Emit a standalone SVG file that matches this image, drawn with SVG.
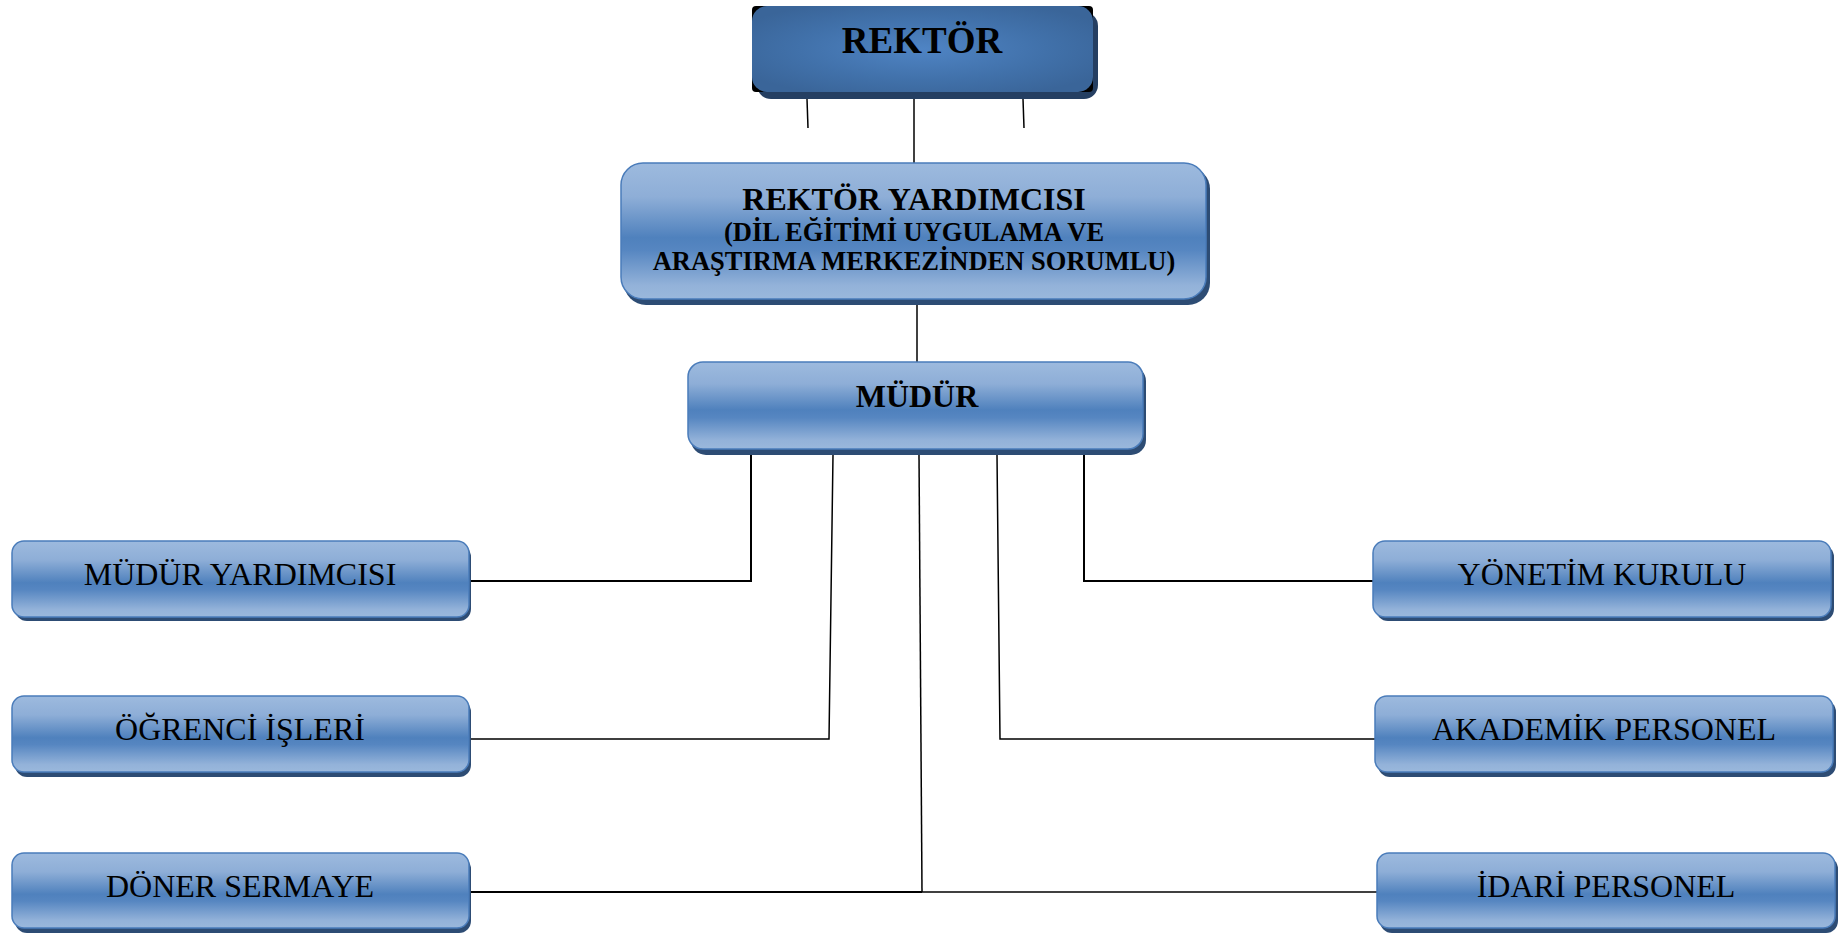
<svg xmlns="http://www.w3.org/2000/svg" width="1841" height="934" viewBox="0 0 1841 934">
<defs>
<linearGradient id="gloss" x1="0" y1="0" x2="0" y2="1">
<stop offset="0" stop-color="#9dbade"/>
<stop offset="0.25" stop-color="#8eaed7"/>
<stop offset="0.55" stop-color="#4f81bd"/>
<stop offset="0.64" stop-color="#5686c1"/>
<stop offset="0.9" stop-color="#93b2d9"/>
<stop offset="1" stop-color="#9ab8dc"/>
</linearGradient>
<radialGradient id="dark" cx="0.5" cy="0.5" r="0.6">
<stop offset="0" stop-color="#4f84c4"/>
<stop offset="0.6" stop-color="#4171aa"/>
<stop offset="1" stop-color="#3a6599"/>
</radialGradient>
<style>
.sh{fill:#2d4c74}
.bx{fill:url(#gloss);stroke:#4a7cba;stroke-width:1.5}
.t{font-family:"Liberation Serif","Times New Roman",serif;font-size:32px;fill:#000;text-anchor:middle}
.b{font-weight:bold}
.c{fill:none;stroke:#000;stroke-width:2}
.c2{fill:none;stroke:#000;stroke-width:1.5}
</style>
</defs>
<g id="connectors">
<path class="c2" d="M914 99 V163"/>
<path class="c2" d="M807 99 L808 128"/>
<path class="c2" d="M1023 99 L1024 128"/>
<path class="c2" d="M917 304 V362"/>
<path class="c" d="M751 455 V581 H470"/>
<path class="c2" d="M833 455 L829 739 H470"/>
<path class="c2" d="M919 455 L922 892"/>
<path class="c" d="M470 892 H922"/>
<path class="c2" d="M922 892 H1377"/>
<path class="c2" d="M997 455 L1000 739 H1375"/>
<path class="c" d="M1084 455 V581 H1373"/>
</g>
<g id="rektor">
<rect x="757" y="12" width="341" height="87" rx="14" fill="#253f62"/>
<rect x="752" y="6" width="341" height="86" rx="4" fill="#000"/>
<rect x="752" y="6" width="341" height="86" rx="15" fill="url(#dark)"/>
<text class="t b" x="922" y="53" style="font-size:37px">REKTÖR</text>
</g>
<g id="rektor-yardimcisi">
<rect class="sh" x="624" y="167" width="586" height="138" rx="22"/>
<rect class="bx" x="621" y="163" width="585" height="136" rx="22"/>
<text class="t b" x="914" y="210">REKTÖR YARDIMCISI</text>
<text class="t b" x="914" y="241" style="font-size:26.5px">(DİL EĞİTİMİ UYGULAMA VE</text>
<text class="t b" x="914" y="270" style="font-size:26.5px">ARAŞTIRMA MERKEZİNDEN SORUMLU)</text>
</g>
<g id="mudur">
<rect class="sh" x="691" y="366" width="455" height="89" rx="15"/>
<rect class="bx" x="688" y="362" width="455" height="87" rx="15"/>
<text class="t b" x="917" y="407">MÜDÜR</text>
</g>
<g id="mudur-yardimcisi">
<rect class="sh" x="15" y="545" width="456" height="76" rx="12"/>
<rect class="bx" x="12" y="541" width="457" height="76" rx="12"/>
<text class="t" x="240" y="585">MÜDÜR YARDIMCISI</text>
</g>
<g id="ogrenci-isleri">
<rect class="sh" x="15" y="700" width="456" height="77" rx="12"/>
<rect class="bx" x="12" y="696" width="457" height="76" rx="12"/>
<text class="t" x="240" y="740">ÖĞRENCİ İŞLERİ</text>
</g>
<g id="doner-sermaye">
<rect class="sh" x="15" y="857" width="456" height="76" rx="12"/>
<rect class="bx" x="12" y="853" width="457" height="75" rx="12"/>
<text class="t" x="240" y="897">DÖNER SERMAYE</text>
</g>
<g id="yonetim-kurulu">
<rect class="sh" x="1376" y="545" width="458" height="76" rx="12"/>
<rect class="bx" x="1373" y="541" width="458" height="76" rx="12"/>
<text class="t" x="1602" y="585">YÖNETİM KURULU</text>
</g>
<g id="akademik-personel">
<rect class="sh" x="1378" y="700" width="458" height="77" rx="12"/>
<rect class="bx" x="1375" y="696" width="458" height="76" rx="12"/>
<text class="t" x="1604" y="740">AKADEMİK PERSONEL</text>
</g>
<g id="idari-personel">
<rect class="sh" x="1380" y="857" width="458" height="76" rx="12"/>
<rect class="bx" x="1377" y="853" width="458" height="75" rx="12"/>
<text class="t" x="1606" y="897">İDARİ PERSONEL</text>
</g>
</svg>
